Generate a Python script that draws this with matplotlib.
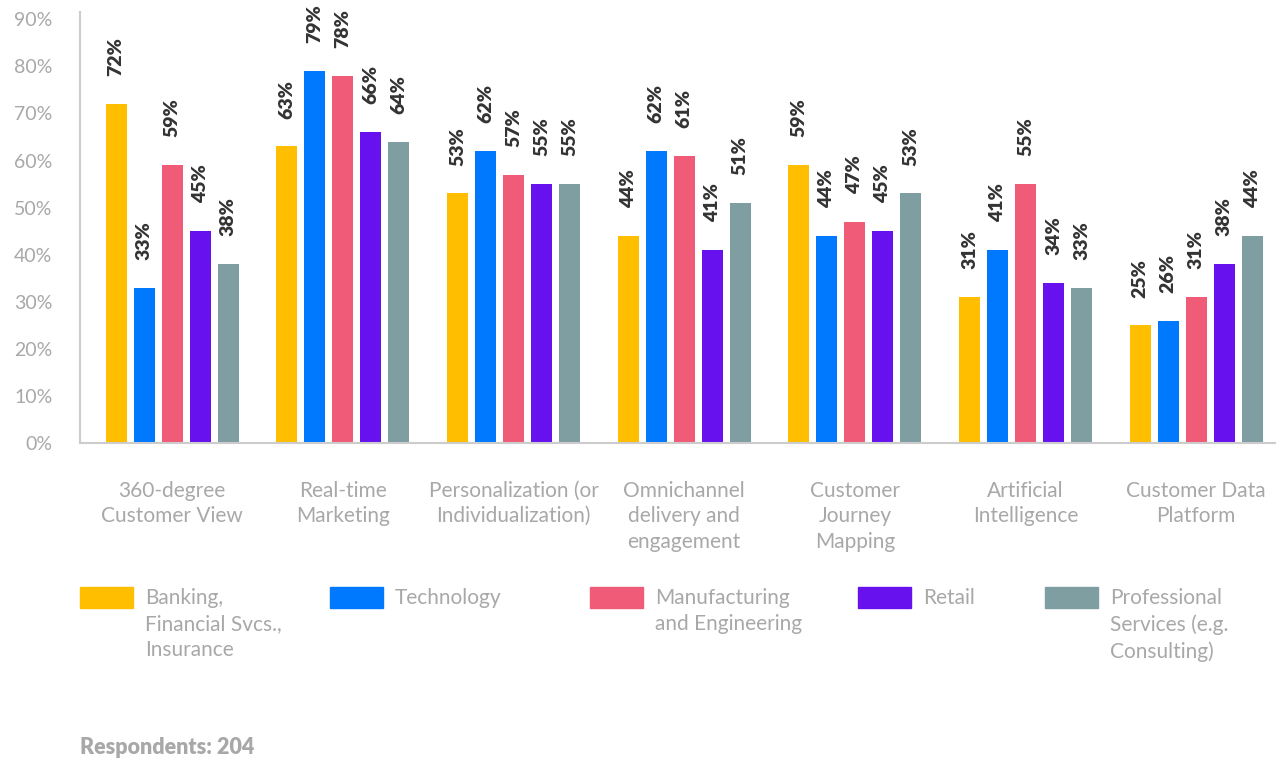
import matplotlib
matplotlib.use("Agg")
import matplotlib.pyplot as plt
import matplotlib.patches as mpatches
import numpy as np

plt.rcParams["font.family"] = ["Lato", "DejaVu Sans"]

# Datos: porcentaje de encuestados por capacidad e industria
categorias = [
    "360-degree\nCustomer View",
    "Real-time\nMarketing",
    "Personalization (or\nIndividualization)",
    "Omnichannel\ndelivery and\nengagement",
    "Customer\nJourney\nMapping",
    "Artificial\nIntelligence",
    "Customer Data\nPlatform",
]
industrias = [
    "Banking,\nFinancial Svcs.,\nInsurance",
    "Technology",
    "Manufacturing\nand Engineering",
    "Retail",
    "Professional\nServices (e.g.\nConsulting)",
]
banca = [72, 63, 53, 44, 59, 31, 25]
tecnologia = [33, 79, 62, 62, 44, 41, 26]
manufactura = [59, 78, 57, 61, 47, 55, 31]
retail = [45, 66, 55, 41, 45, 34, 38]
servicios = [38, 64, 55, 51, 53, 33, 44]
series = [banca, tecnologia, manufactura, retail, servicios]
colores = ["#FFBE00", "#0079FF", "#F05C77", "#6611EE", "#7E9EA1"]

GRIS = "#A8A8A8"
fig = plt.figure(figsize=(12.82, 7.6), dpi=100)
ax = fig.add_axes([0.0624, 0.417, 0.932, 0.567])

x = np.arange(len(categorias))
ancho = 0.123
paso = 0.164
for i, (vals, col) in enumerate(zip(series, colores)):
    pos = x + (i - 2) * paso
    ax.bar(pos, vals, width=ancho, color=col, zorder=2)
    for xp, v in zip(pos, vals):
        ax.annotate(f"{v}%", (xp, v), xytext=(0, 20), textcoords="offset points",
                    rotation=90, ha="center", va="bottom", fontsize=14,
                    fontweight="heavy", color="#333333")

ax.set_xlim(-0.54, 6.46)
ax.set_ylim(0, 91.5)
ax.set_yticks(range(0, 91, 10))
ax.set_yticklabels([f"{t}%" for t in range(0, 91, 10)], fontsize=14, color=GRIS)
ax.tick_params(axis="y", length=0, pad=20)
ax.set_xticks(x)
ax.set_xticklabels(categorias, fontsize=15, color=GRIS, linespacing=1.36, va="top")
ax.tick_params(axis="x", length=0, pad=27)

for s in ["top", "right"]:
    ax.spines[s].set_visible(False)
for s in ["left", "bottom"]:
    ax.spines[s].set_color("#CCCCCC")
    ax.spines[s].set_linewidth(1.5)

# Leyenda dibujada a mano
leg_x = [80, 330, 590, 858, 1045]
W, H = 1282, 760
for lx, nombre, col in zip(leg_x, industrias, colores):
    fig.patches.append(mpatches.Rectangle((lx / W, 1 - 608 / H), 53 / W, 21 / H,
                                          transform=fig.transFigure, color=col))
    fig.text((lx + 65) / W, 1 - 588 / H, nombre, fontsize=15, color=GRIS,
             va="top", ha="left", linespacing=1.38)

fig.text(80 / W, 1 - 747 / H, "Respondents: 204", fontsize=15.5, fontweight="heavy",
         color=GRIS, va="center", ha="left")

plt.savefig("out.png", dpi=100)
